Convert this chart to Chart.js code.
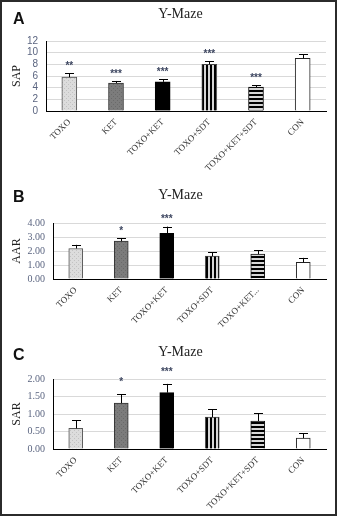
<!DOCTYPE html>
<html>
<head>
<meta charset="utf-8">
<script src="https://cdn.jsdelivr.net/npm/chart.js@4.4.1/dist/chart.umd.min.js"></script>
<style>
  html, body { margin:0; padding:0; background:#fff; }
  #wrap { position:relative; width:337px; height:516px; border:2px solid #2b2b2b; box-sizing:border-box; overflow:hidden; }
  .panel { position:absolute; left:-2px; width:337px; }
  .letter { position:absolute; font-family:"Liberation Sans", Arial, sans-serif; font-weight:bold; font-size:16px; color:#111; }
  .title { position:absolute; width:337px; text-align:center; font-family:"Liberation Serif", serif; font-size:14px; color:#222; }
</style>
</head>
<body>
<div id="wrap">
  <div class="panel" style="top:-2px;height:170px"><canvas id="chartA" width="337" height="170"></canvas></div>
  <div class="panel" style="top:168px;height:170px"><canvas id="chartB" width="337" height="170"></canvas></div>
  <div class="panel" style="top:338px;height:176px"><canvas id="chartC" width="337" height="176"></canvas></div>
  <div class="letter" style="left:11px;top:8px">A</div>
  <div class="title" style="left:10px;top:4px">Y-Maze</div>
  <div class="letter" style="left:11px;top:186px">B</div>
  <div class="title" style="left:10px;top:185px">Y-Maze</div>
  <div class="letter" style="left:11px;top:344px">C</div>
  <div class="title" style="left:10px;top:342px">Y-Maze</div>
</div>
<script>
const categories = ['TOXO','KET','TOXO+KET','TOXO+SDT','TOXO+KET+SDT','CON'];
const categoriesB = ['TOXO','KET','TOXO+KET','TOXO+SDT','TOXO+KET...','CON'];

const sapMean = [5.8, 4.8, 5.0, 8.0, 4.1, 9.05];
const sapErr  = [0.7, 0.35, 0.45, 0.5, 0.3, 0.7];
const sapStars = ['**','***','***','***','***',''];
const sapTicks = [0, 2, 4, 6, 8, 10, 12];

const aarMean = [2.18, 2.7, 3.27, 1.63, 1.78, 1.19];
const aarErr  = [0.26, 0.23, 0.47, 0.27, 0.26, 0.32];
const aarStars = ['','*','***','','',''];
const aarTicks = [0, 1, 2, 3, 4];

const sarMean = [0.59, 1.31, 1.61, 0.91, 0.8, 0.31];
const sarErr  = [0.23, 0.26, 0.25, 0.22, 0.22, 0.14];
const sarStars = ['','*','***','','',''];
const sarTicks = [0, 0.5, 1, 1.5, 2];

function tile(w, h, draw) {
  const c = document.createElement('canvas');
  c.width = w; c.height = h;
  const g = c.getContext('2d');
  draw(g);
  return g.createPattern(c, 'repeat');
}
const dotFill = tile(4, 4, g => {
  g.fillStyle = '#dcdcdc'; g.fillRect(0,0,4,4);
  g.fillStyle = '#c2c2c2'; g.fillRect(0,0,1,1); g.fillRect(2,2,1,1);
});
const darkFill = tile(4, 4, g => {
  g.fillStyle = '#7c7c7c'; g.fillRect(0,0,4,4);
  g.fillStyle = '#6a6a6a'; g.fillRect(1,0,1,1); g.fillRect(3,2,1,1);
});
const vStripe = tile(4, 1, g => {
  g.fillStyle = '#d6d6d6'; g.fillRect(0,0,4,1);
  g.fillStyle = '#000'; g.fillRect(2,0,2,1);
});
const hStripe = tile(1, 4, g => {
  g.fillStyle = '#d6d6d6'; g.fillRect(0,0,1,4);
  g.fillStyle = '#000'; g.fillRect(0,2,1,2);
});
const fills = [dotFill, darkFill, '#000000', vStripe, hStripe, '#ffffff'];
const borders = ['#555555', '#333333', '#000000', '#444444', '#111111', '#222222'];

const errorBars = {
  id: 'errorBars',
  afterDatasetsDraw(chart, args, opts) {
    const c = chart.ctx;
    const meta = chart.getDatasetMeta(0);
    const y = chart.scales.y;
    c.save();
    meta.data.forEach((bar, i) => {
      const top = y.getPixelForValue(opts.mean[i]);
      const cap = y.getPixelForValue(opts.mean[i] + opts.err[i]);
      c.strokeStyle = '#000';
      c.lineWidth = 1;
      c.beginPath();
      c.moveTo(Math.round(bar.x) + 0.5, top);
      c.lineTo(Math.round(bar.x) + 0.5, cap);
      c.moveTo(Math.round(bar.x) - 4, Math.round(cap) + 0.5);
      c.lineTo(Math.round(bar.x) + 5, Math.round(cap) + 0.5);
      c.stroke();
      if (opts.stars[i]) {
        c.fillStyle = '#3d4660';
        c.font = 'bold 10px "Liberation Sans", sans-serif';
        c.textAlign = 'center';
        c.textBaseline = 'top';
        c.fillText(opts.stars[i], bar.x, cap - opts.starGap - 3);
      }
    });
    c.restore();
  }
};

function makeChart(id, labels, mean, err, stars, ticks, yTitle, box) {
  const yMax = ticks[ticks.length - 1];
  new Chart(document.getElementById(id), {
    type: 'bar',
    data: {
      labels: labels,
      datasets: [{
        data: mean,
        backgroundColor: fills,
        borderColor: borders,
        borderWidth: 1,
        borderSkipped: 'bottom',
        barThickness: box.bar,
        categoryPercentage: 1
      }]
    },
    options: {
      responsive: false,
      animation: false,
      events: [],
      layout: { padding: { left: 10, right: box.right, top: box.top, bottom: 0 } },
      scales: {
        x: {
          grid: { display: false, drawTicks: false },
          border: { color: '#000', width: 1 },
          ticks: {
            autoSkip: false,
            minRotation: 45, maxRotation: 45, padding: 6,
            color: '#333',
            font: { family: '"Liberation Serif", serif', size: 9 }
          },
          afterFit: s => { s.height = box.xh; }
        },
        y: {
          min: 0, max: yMax,
          afterBuildTicks: s => { s.ticks = ticks.map(v => ({ value: v })); },
          grid: { color: '#d9d9d9', drawTicks: false },
          border: { color: '#000', width: 1 },
          ticks: {
            autoSkip: false,
            padding: box.tickPad,
            color: '#5b6580',
            font: { family: box.tickFont, size: 10 },
            callback: v => box.fixed ? v.toFixed(2) : String(v)
          },
          title: {
            display: true, text: yTitle, color: '#222', padding: { top: 0, bottom: 0 },
            font: { family: '"Liberation Serif", serif', size: 12 }
          },
          afterFit: s => { s.width = box.left - 10; }
        }
      },
      plugins: {
        legend: { display: false },
        tooltip: { enabled: false },
        errorBars: { mean: mean, err: err, stars: stars, starGap: box.starGap }
      }
    },
    plugins: [errorBars]
  });
}

makeChart('chartA', categories, sapMean, sapErr, sapStars, sapTicks, 'SAP',
  { left: 46, right: 11, top: 41, xh: 59, bar: 15, tickPad: 8, tickFont: '"Liberation Sans", sans-serif', fixed: false, starGap: 9 });
makeChart('chartB', categoriesB, aarMean, aarErr, aarStars, aarTicks, 'AAR',
  { left: 53, right: 11, top: 53, xh: 61, bar: 14, tickPad: 8, tickFont: '"Liberation Serif", serif', fixed: true, starGap: 9 });
makeChart('chartC', categories, sarMean, sarErr, sarStars, sarTicks, 'SAR',
  { left: 53, right: 11, top: 39, xh: 67, bar: 14, tickPad: 8, tickFont: '"Liberation Serif", serif', fixed: true, starGap: 14 });
</script>
</body>
</html>
